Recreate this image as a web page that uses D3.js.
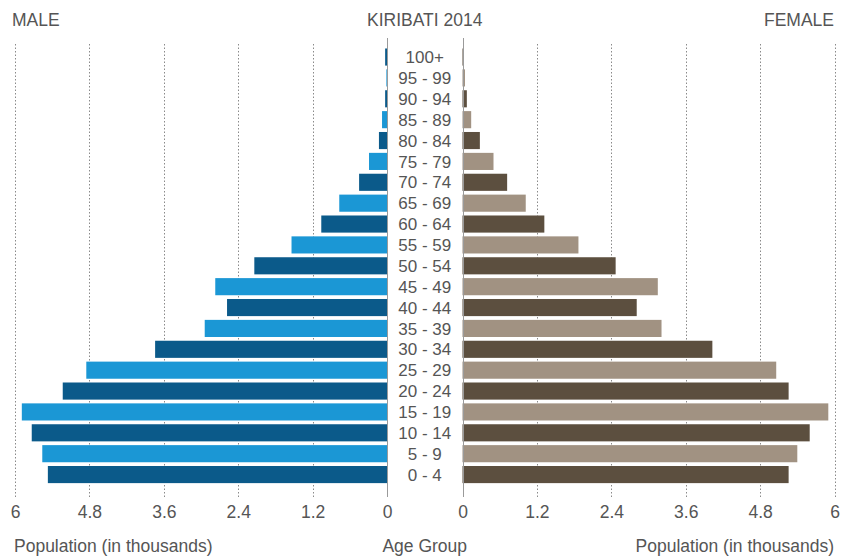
<!DOCTYPE html>
<html>
<head>
<meta charset="utf-8">
<script src="https://cdn.jsdelivr.net/npm/d3@7"></script>
<style>
  body { margin: 0; background: #fff; }
  svg { display: block; }
  text { font-family: "Liberation Sans", Arial, sans-serif; fill: #555; }
</style>
</head>
<body>
<svg id="chart" width="845" height="556"></svg>
<script>
const ageGroups = ["0 - 4","5 - 9","10 - 14","15 - 19","20 - 24","25 - 29","30 - 34","35 - 39","40 - 44","45 - 49","50 - 54","55 - 59","60 - 64","65 - 69","70 - 74","75 - 79","80 - 84","85 - 89","90 - 94","95 - 99","100+"];
const maleValues = [5.47,5.56,5.73,5.89,5.23,4.85,3.74,2.94,2.58,2.77,2.14,1.54,1.06,0.77,0.45,0.29,0.13,0.08,0.03,0.01,0.03];
const femaleValues = [5.26,5.40,5.60,5.90,5.26,5.06,4.03,3.21,2.81,3.15,2.47,1.87,1.32,1.02,0.72,0.50,0.28,0.14,0.07,0.04,0.01];
const tickValues = [0,1.2,2.4,3.6,4.8,6];
const maleColors = ["#0b5a8a","#1b97d5"];
const femaleColors = ["#5c4f3f","#a19282"];

const svg = d3.select("#chart");
const xL = d3.scaleLinear().domain([0,6]).range([387,15]);
const xR = d3.scaleLinear().domain([0,6]).range([462.5,834.5]);
const y = d3.scaleBand().domain(ageGroups).range([485,46.6]).paddingInner(0.18).paddingOuter(0.09);

const gridTop = 44, gridBottom = 497;
const fmt = d => String(+d.toFixed(1));
const fs = 17.5;

// gridlines
[xL, xR].forEach(sc => {
  svg.append("g").selectAll("line").data(tickValues.filter(t => t > 0)).join("line")
    .attr("x1", d => Math.round(sc(d)) + 0.5).attr("x2", d => Math.round(sc(d)) + 0.5)
    .attr("y1", gridTop).attr("y2", gridBottom)
    .attr("stroke", "#8a8a8a").attr("stroke-width", 1).attr("stroke-dasharray", "1.5,2");
});

// bars
svg.append("g").selectAll("rect").data(ageGroups).join("rect")
  .attr("x", (d,i) => xL(maleValues[i]))
  .attr("width", (d,i) => xL(0) - xL(maleValues[i]))
  .attr("y", d => y(d)).attr("height", y.bandwidth())
  .attr("fill", (d,i) => maleColors[i % 2]);

svg.append("g").selectAll("rect").data(ageGroups).join("rect")
  .attr("x", xR(0))
  .attr("width", (d,i) => xR(femaleValues[i]) - xR(0))
  .attr("y", d => y(d)).attr("height", y.bandwidth())
  .attr("fill", (d,i) => femaleColors[i % 2]);

// center zero lines
[xL(0), xR(0)].forEach(x => {
  svg.append("line").attr("x1", Math.round(x)+0.5).attr("x2", Math.round(x)+0.5)
    .attr("y1", 38).attr("y2", gridBottom).attr("stroke", "#9a9a9a").attr("stroke-width", 1);
});

// age labels
svg.append("g").selectAll("text").data(ageGroups).join("text")
  .attr("x", (xL(0) + xR(0)) / 2)
  .attr("y", d => y(d) + y.bandwidth() / 2)
  .attr("dy", "0.36em")
  .attr("text-anchor", "middle")
  .attr("font-size", 17)
  .text(d => d);

// axes
const axL = d3.axisBottom(xL).tickValues(tickValues).tickFormat(fmt).tickSize(0).tickPadding(0);
const axR = d3.axisBottom(xR).tickValues(tickValues).tickFormat(fmt).tickSize(0).tickPadding(0);
[axL, axR].forEach(ax => {
  const g = svg.append("g").attr("transform", "translate(0,506)").call(ax);
  g.select(".domain").remove();
  g.selectAll("text").attr("font-size", fs).attr("fill", "#555").attr("dy", "0.71em")
    .style("font-family", "'Liberation Sans', Arial, sans-serif");
});

// titles
svg.append("text").attr("x", 12).attr("y", 26).attr("font-size", fs).text("MALE");
svg.append("text").attr("x", (xL(0) + xR(0)) / 2).attr("y", 26).attr("text-anchor", "middle").attr("font-size", fs).text("KIRIBATI 2014");
svg.append("text").attr("x", 834).attr("y", 26).attr("text-anchor", "end").attr("font-size", fs).text("FEMALE");

svg.append("text").attr("x", 14).attr("y", 552).attr("font-size", fs).text("Population (in thousands)");
svg.append("text").attr("x", (xL(0) + xR(0)) / 2).attr("y", 552).attr("text-anchor", "middle").attr("font-size", fs).text("Age Group");
svg.append("text").attr("x", 834).attr("y", 552).attr("text-anchor", "end").attr("font-size", fs).text("Population (in thousands)");
</script>
</body>
</html>
